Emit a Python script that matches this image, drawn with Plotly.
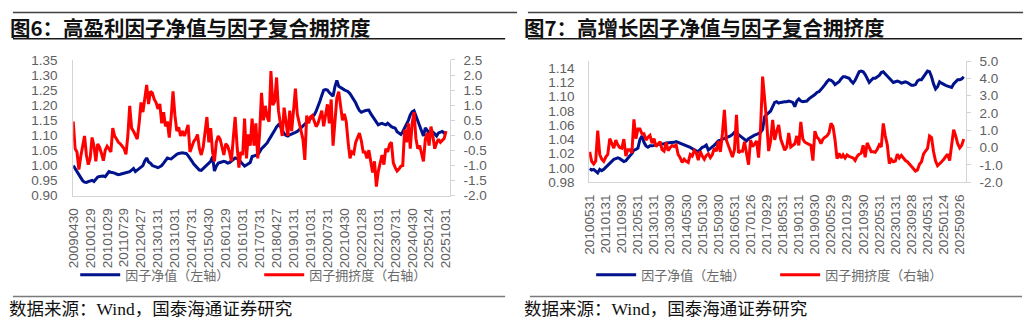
import plotly.graph_objects as go

W, H = 1032, 330

# ---------------- 图6：高盈利 ----------------
hp_ticks = ["20090430", "20100129", "20101029", "20110729", "20120427", "20130131",
            "20131031", "20140731", "20150430", "20160129", "20161031", "20170731",
            "20180427", "20190131", "20191031", "20200731", "20210430", "20220128",
            "20221031", "20230731", "20240430", "20250124", "20251031"]
hp_tick_step = 9

# 因子净值（左轴），月度
hp_nav = [
    1.000, 0.990, 0.980, 0.970, 0.960, 0.950, 0.945, 0.944, 0.947, 0.948,
    0.951, 0.947, 0.955, 0.962, 0.964, 0.965, 0.965, 0.963, 0.970, 0.980,
    0.978, 0.977, 0.975, 0.972, 0.970, 0.971, 0.973, 0.975, 0.977, 0.979,
    0.980, 0.985, 0.990, 0.980, 0.985, 0.987, 0.993, 1.000, 1.015, 1.025,
    1.012, 1.008, 1.000, 0.997, 0.994, 0.993, 0.996, 1.000, 1.008, 1.018,
    1.025, 1.023, 1.022, 1.027, 1.033, 1.037, 1.040, 1.042, 1.042, 1.041,
    1.040, 1.033, 1.025, 1.015, 1.005, 0.998, 0.990, 0.985, 0.984, 0.990,
    0.998, 1.004, 1.010, 1.014, 1.030, 0.982, 0.998, 1.008, 1.010, 1.012,
    1.014, 1.012, 1.008, 1.010, 1.016, 1.022, 1.025, 1.023, 1.020, 1.012,
    1.004, 0.998, 1.002, 1.006, 1.010, 1.030, 1.032, 1.034, 1.036, 1.045,
    1.056, 1.062, 1.068, 1.075, 1.086, 1.098, 1.108, 1.117, 1.128, 1.135,
    1.130, 1.118, 1.106, 1.100, 1.098, 1.102, 1.104, 1.106, 1.110, 1.113,
    1.119, 1.124, 1.131, 1.137, 1.143, 1.150, 1.157, 1.163, 1.168, 1.180,
    1.195, 1.213, 1.232, 1.250, 1.252, 1.250, 1.242, 1.236, 1.230, 1.262,
    1.282, 1.263, 1.258, 1.255, 1.251, 1.248, 1.245, 1.238, 1.229, 1.217,
    1.208, 1.194, 1.182, 1.177, 1.180, 1.182, 1.183, 1.184, 1.172, 1.162,
    1.152, 1.142, 1.135, 1.138, 1.140, 1.137, 1.135, 1.140, 1.134, 1.129,
    1.126, 1.124, 1.112, 1.106, 1.103, 1.112, 1.124, 1.140, 1.150, 1.168,
    1.178, 1.182, 1.166, 1.145, 1.135, 1.115, 1.098, 1.125, 1.118, 1.108,
    1.110, 1.111, 1.105, 1.098, 1.108, 1.110, 1.113, 1.108, 1.103,
]

# 因子拥挤度（右轴），月度
hp_crowd = [
    0.46, -0.44, -0.55, -1.13, -0.70, -0.34, -0.02, -0.65, -0.97, -0.76,
    -0.07, -0.34, -0.86, -0.28, -0.40, -0.60, -0.84, -0.49, -0.36, -0.45,
    -0.55, 0.24, -0.02, -0.12, -0.23, -0.28, -0.36, -0.44, -0.63, -0.02,
    0.98, 0.24, 0.14, 0.00, -0.12, 0.40, 1.09, 0.77, 1.19, 1.67,
    1.04, 1.46, 1.41, 1.20, 1.09, 0.88, 1.04, 0.40, 0.77, 0.30,
    0.46, -0.07, 0.60, 1.46, 0.67, 0.14, 0.27, -0.02, 0.14, -0.02,
    0.14, 0.35, -0.55, -0.34, -0.20, -0.12, 0.03, -0.44, -0.65, -0.40,
    0.10, 0.61, -0.23, 0.24, -0.55, -0.86, -0.23, -0.02, -0.12, -0.44,
    -0.65, -0.28, -0.35, -0.55, -0.86, -0.10, 0.61, -0.34, -1.07, -0.55,
    -0.65, 0.56, -0.76, 0.03, -0.34, 0.56, -0.34, 0.40, -0.76, 0.09,
    1.41, 0.50, 0.98, 0.61, 0.45, 2.13, 1.00, 1.13, 1.92, 0.82,
    0.40, -0.02, 0.92, 0.40, -0.02, 0.82, 0.14, 0.82, 1.55, 0.70,
    0.45, 0.19, -0.13, -0.81, 0.66, 0.40, 0.61, 0.66, 0.45, 0.29,
    0.40, 0.60, 0.82, 0.30, 0.71, 1.03, 0.40, 1.19, -0.34, 0.40,
    1.24, 1.45, 1.00, 0.50, 0.71, 0.45, -0.23, -0.76, -0.55, -0.60,
    -0.23, -0.07, 0.08, -0.18, -0.55, -0.55, -0.76, -0.49, -0.86, -1.23,
    -0.86, -1.70, -1.20, -0.86, -0.65, -0.97, -0.44, -0.55, -0.30, -0.23,
    -0.91, -1.07, -1.18, -1.12, -1.02, -1.00, 0.19, -0.23, 0.40, -0.44,
    0.40, 0.77, -0.10, -0.44, -0.34, -0.60, -0.86, -0.13, 0.08, -0.34,
    0.29, -0.02, -0.44, -0.25, -0.13, -0.23, -0.18, -0.10, 0.14,
]

# ---------------- 图7：高增长 ----------------
hg_ticks = ["20100531", "20110131", "20110930", "20120531", "20130131", "20130930",
            "20140530", "20150130", "20150930", "20160531", "20170126", "20170929",
            "20180531", "20190131", "20190930", "20200529", "20210129", "20210930",
            "20220531", "20230131", "20230928", "20240531", "20250124", "20250926"]
hg_tick_step = 8

hg_nav = [
    0.999, 0.997, 0.998, 0.995, 0.993, 0.998, 0.996, 0.998, 1.001, 1.003,
    1.006, 1.010, 1.012, 1.013, 1.014, 1.013, 1.011, 1.009, 1.010, 1.014,
    1.017, 1.020, 1.025, 1.026, 1.028, 1.040, 1.045, 1.036, 1.031, 1.029,
    1.031, 1.031, 1.031, 1.032, 1.033, 1.033, 1.034, 1.034, 1.035, 1.035,
    1.036, 1.036, 1.036, 1.037, 1.036, 1.035, 1.034, 1.032, 1.032, 1.031,
    1.029, 1.027, 1.025, 1.024, 1.023, 1.026, 1.029, 1.030, 1.032, 1.025,
    1.027, 1.029, 1.032, 1.035, 1.038, 1.039, 1.040, 1.041, 1.043, 1.044,
    1.045, 1.047, 1.050, 1.049, 1.047, 1.045, 1.043, 1.040, 1.038, 1.041,
    1.043, 1.044, 1.046, 1.047, 1.048, 1.050, 1.054, 1.072, 1.075, 1.077,
    1.080, 1.086, 1.092, 1.093, 1.091, 1.092, 1.093, 1.093, 1.093, 1.094,
    1.093, 1.092, 1.086, 1.094, 1.097, 1.094, 1.093, 1.093, 1.094, 1.097,
    1.099, 1.100, 1.103, 1.106, 1.107, 1.110, 1.113, 1.117, 1.121, 1.124,
    1.123, 1.121, 1.117, 1.119, 1.121, 1.125, 1.128, 1.128, 1.127, 1.126,
    1.122, 1.119, 1.123, 1.128, 1.135, 1.136, 1.135, 1.131, 1.125, 1.120,
    1.123, 1.126, 1.126, 1.128, 1.130, 1.134, 1.135, 1.132, 1.129, 1.126,
    1.122, 1.120, 1.121, 1.122, 1.121, 1.119, 1.120, 1.121, 1.120, 1.118,
    1.116, 1.116, 1.117, 1.122, 1.124, 1.124, 1.128, 1.131, 1.136, 1.135,
    1.128, 1.118, 1.111, 1.114, 1.121, 1.119, 1.117, 1.116, 1.115, 1.114,
    1.113, 1.118, 1.121, 1.124, 1.124, 1.125, 1.128,
]

hg_crowd = [
    -0.25, -0.80, -0.95, -0.77, 0.98, -0.40, -0.67, -0.80, -0.55, -0.40,
    0.52, 0.25, -0.03, 0.43, 0.15, 0.00, -0.03, 0.49, -0.49, -0.12,
    -0.12, -0.31, 1.63, 0.52, 1.08, 1.08, 0.80, 0.80, 0.43, 0.60,
    0.71, 0.25, 0.52, 0.06, 0.20, 0.34, -0.12, -0.21, 0.30, -0.18,
    0.00, 0.12, 0.06, 0.15, -0.40, -0.58, -0.86, -0.67, -0.80, -0.86,
    -0.40, -0.49, -0.18, -0.31, -0.73, -0.21, -0.49, -0.67, -0.45, -0.36,
    -0.58, -0.40, -0.03, -0.21, 0.38, -0.25, 0.80, 2.18, 0.43, 0.15,
    -0.21, -0.55, -0.12, 1.90, -0.31, -0.21, -0.21, 0.34, -0.40, -0.99,
    0.43, 0.06, 0.20, 0.38, -0.58, 1.17, 4.11, 3.00, 1.50, -0.20,
    0.40, 1.60, 0.45, 0.95, 1.31, 0.49, 0.22, -0.15, 0.04, 0.85,
    0.04, 0.13, 0.22, 0.67, 0.13, 1.49, 0.50, 0.31, 0.26, 0.22,
    0.13, -0.75, 0.95, 0.60, 0.49, 0.22, 0.49, 0.60, 0.67, 0.85,
    1.40, 1.22, 0.45, -0.64, -0.33, -0.60, -0.42, -0.60, -0.42, -0.51,
    -0.55, -0.60, -0.75, -0.51, -0.38, -0.33, 0.13, -0.56, 0.27, 0.04,
    -0.24, -0.24, -0.27, -0.10, 0.16, 0.04, 1.40, 0.67, 0.16, -0.93,
    -0.69, -0.82, -0.78, -0.38, -0.60, -0.45, -0.60, -0.75, -0.82, -0.96,
    -1.10, -1.24, -1.36, -1.29, -0.96, -0.82, -0.38, -0.20, -0.05, 0.67,
    0.58, -0.24, -0.78, -1.05, -0.90, -0.82, -0.69, -0.51, -0.38, -0.75,
    0.04, 1.04, 0.67, 0.22, -0.02, 0.13, 0.49,
]

NAME_NAV = "因子净值（左轴）"
NAME_CROWD = "因子拥挤度（右轴）"

NAVY = "#00128C"
RED = "#FF0000"
TICK_GRAY = "#606060"
AXIS_GRAY = "#D4D4D4"
NUM_FONT = "Liberation Sans, Arial, sans-serif"
CJK_FONT = "Noto Sans CJK SC, sans-serif"


def px_x(x):
    return x / W


def px_y(y):
    return 1 - y / H


def ticks(lo, step, count, fmt):
    vals = [round(lo + step * k, 4) for k in range(count)]
    return vals, [format(v, fmt) for v in vals]


fig = go.Figure()

x_hp = list(range(len(hp_nav)))
x_hg = list(range(len(hg_nav)))

fig.add_trace(go.Scatter(x=x_hp, y=hp_nav, mode="lines", name=NAME_NAV,
                         line=dict(color=NAVY, width=3), xaxis="x", yaxis="y",
                         legend="legend"))
fig.add_trace(go.Scatter(x=x_hp, y=hp_crowd, mode="lines", name=NAME_CROWD,
                         line=dict(color=RED, width=3), xaxis="x", yaxis="y2",
                         legend="legend"))
fig.add_trace(go.Scatter(x=x_hg, y=hg_nav, mode="lines", name=NAME_NAV,
                         line=dict(color=NAVY, width=3), xaxis="x2", yaxis="y3",
                         legend="legend2"))
fig.add_trace(go.Scatter(x=x_hg, y=hg_crowd, mode="lines", name=NAME_CROWD,
                         line=dict(color=RED, width=3), xaxis="x2", yaxis="y4",
                         legend="legend2"))

tickfont = dict(family=NUM_FONT, size=13.5, color=TICK_GRAY)

common_x = dict(showgrid=False, zeroline=False, showline=True, linecolor=AXIS_GRAY,
                linewidth=1, ticks="", tickangle=-90, tickfont=tickfont,
                tickmode="array", ticklabelstandoff=6)
common_y = dict(showgrid=False, zeroline=False, showline=True, linecolor=AXIS_GRAY,
                linewidth=1, tickfont=tickfont, tickmode="array")

hp_left_v, hp_left_t = ticks(0.90, 0.05, 10, ".2f")
hp_right_v, hp_right_t = ticks(-2.0, 0.5, 10, ".1f")
hg_left_v, hg_left_t = ticks(0.98, 0.02, 9, ".2f")
hg_right_v, hg_right_t = ticks(-2.0, 1.0, 8, ".1f")

legend_style = dict(orientation="h", xanchor="left", y=px_y(280.5),
                    yanchor="middle", bgcolor="rgba(0,0,0,0)", borderwidth=0,
                    font=dict(family=CJK_FONT, size=13, color="#6A6A6A"),
                    entrywidthmode="pixels", entrywidth=129, itemwidth=40)

fig.update_layout(
    width=W, height=H, autosize=False,
    margin=dict(l=0, r=0, t=0, b=0),
    paper_bgcolor="white", plot_bgcolor="white",
    xaxis=dict(common_x, domain=[px_x(66), px_x(447)], range=[0, 200], anchor="y",
               tickvals=[k * hp_tick_step for k in range(len(hp_ticks))],
               ticktext=hp_ticks),
    yaxis=dict(common_y, domain=[px_y(197.7), px_y(55.5)], range=[0.90, 1.35],
               anchor="x", tickvals=hp_left_v, ticktext=hp_left_t, ticks="",
               ticklabelstandoff=12),
    yaxis2=dict(common_y, overlaying="y", side="right", anchor="x",
                range=[-2.0, 2.5], tickvals=hp_right_v, ticktext=hp_right_t,
                ticks="outside", ticklen=4, tickcolor=AXIS_GRAY,
                ticklabelstandoff=6),
    xaxis2=dict(common_x, domain=[px_x(588), px_x(969)], range=[-0.25, 187],
                anchor="y3",
                tickvals=[k * hg_tick_step for k in range(len(hg_ticks))],
                ticktext=hg_ticks),
    yaxis3=dict(common_y, domain=[px_y(183.5), px_y(56.7)], range=[0.98, 1.15],
                anchor="x2", tickvals=hg_left_v, ticktext=hg_left_t, ticks="",
                ticklabelstandoff=11),
    yaxis4=dict(common_y, overlaying="y3", side="right", anchor="x2",
                range=[-2.0, 5.0], tickvals=hg_right_v, ticktext=hg_right_t,
                ticks="outside", ticklen=4, tickcolor=AXIS_GRAY,
                ticklabelstandoff=6),
    legend=dict(legend_style, x=px_x(68)),
    legend2=dict(legend_style, x=px_x(590)),
    showlegend=True,
)

# 标题、分隔线与数据来源
shapes = []
for x0, x1, y, color, w in [
    (5, 515, 5.7, "#404040", 1.5), (5, 503, 33.3, "#1A1A1A", 1.5),
    (5, 503, 303.3, "#7A7A7A", 1.5),
    (526, 1027, 5.7, "#404040", 1.5), (526, 1026, 33.3, "#1A1A1A", 1.5),
    (528, 1026, 303.3, "#7A7A7A", 1.5),
]:
    shapes.append(dict(type="line", xref="paper", yref="paper",
                       x0=px_x(x0), x1=px_x(x1), y0=px_y(y), y1=px_y(y),
                       line=dict(color=color, width=w)))
fig.update_layout(shapes=shapes)

titles = [("图6：高盈利因子净值与因子复合拥挤度", 0),
          ("图7：高增长因子净值与因子复合拥挤度", 520)]
for text, x in titles:
    fig.add_annotation(text=text, xref="paper", yref="paper", x=px_x(x), y=px_y(20.5),
                       xanchor="left", yanchor="middle", showarrow=False,
                       font=dict(family=CJK_FONT, size=20.5, color="#111111",
                                 weight="bold"))

for x in (-1, 520):
    fig.add_annotation(text="数据来源：Wind，国泰海通证券研究", xref="paper",
                       yref="paper", x=px_x(x), y=px_y(316), xanchor="left",
                       yanchor="middle", showarrow=False,
                       font=dict(family="Liberation Serif, Noto Sans CJK SC, serif",
                                 size=17.5, color="#111111"))

fig.write_html("out.html")
